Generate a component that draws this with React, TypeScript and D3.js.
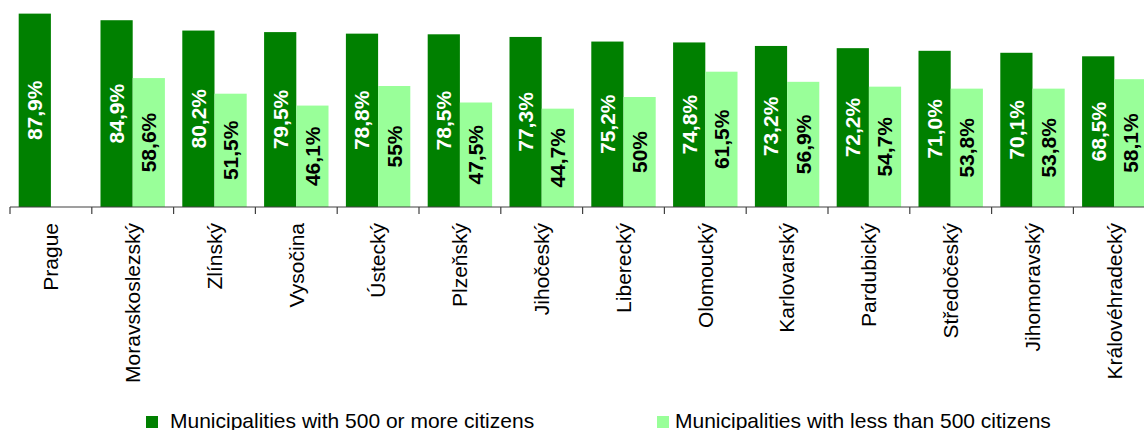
import React from "react";
import * as d3 from "d3";

const categories = [
  "Prague", "Moravskoslezský", "Zlínský", "Vysočina", "Ústecký", "Plzeňský", "Jihočeský",
  "Liberecký", "Olomoucký", "Karlovarský", "Pardubický", "Středočeský", "Jihomoravský", "Královéhradecký",
];
const bigMunicipalities = [87.9, 84.9, 80.2, 79.5, 78.8, 78.5, 77.3, 75.2, 74.8, 73.2, 72.2, 71.0, 70.1, 68.5];
const smallMunicipalities: (number | null)[] = [null, 58.6, 51.5, 46.1, 55, 47.5, 44.7, 50, 61.5, 56.9, 54.7, 53.8, 53.8, 58.1];
const seriesNames = ["Municipalities with 500 or more citizens", "Municipalities with less than 500 citizens"];

const W = 1144;
const H = 430;
const DARK = "#008000";
const LIGHT = "#99ff99";
const FONT = "'Liberation Sans', Arial, sans-serif";

const fmtBig = (v: number) => v.toFixed(1).replace(".", ",") + "%";
const fmtSmall = (v: number) => (Number.isInteger(v) ? String(v) : v.toFixed(1).replace(".", ",")) + "%";

export default function App() {
  const x0 = d3.scaleBand<string>().domain(categories).range([10, 10 + 81.8 * 14]).paddingInner(0).paddingOuter(0);
  const x1 = d3.scaleBand<string>().domain(["big", "small"]).range([0, x0.bandwidth()]).paddingInner(0).paddingOuter(0.27);
  const y = d3.scaleLinear().domain([0, 100]).range([207, -13]);
  const base = y(0);

  return (
    <svg width={W} height={H} style={{ position: "absolute", left: 0, top: 0, background: "#fff" }} fontFamily={FONT}>
      {categories.map((c, i) => {
        const gx = x0(c)!;
        const bv = bigMunicipalities[i];
        const sv = smallMunicipalities[i];
        const bx = gx + x1("big")!;
        const sx = gx + x1("small")!;
        const bw = x1.bandwidth();
        return (
          <g key={c}>
            <rect x={bx} y={y(bv)} width={bw} height={base - y(bv)} fill={DARK} />
            <text
              transform={`translate(${bx + bw / 2},${(y(bv) + base) / 2}) rotate(-90)`}
              dy="0.35em"
              textAnchor="middle"
              fill="#fff"
              fontWeight="bold"
              fontSize={21}
            >
              {fmtBig(bv)}
            </text>
            {sv != null && (
              <>
                <rect x={sx} y={y(sv)} width={bw} height={base - y(sv)} fill={LIGHT} />
                <text
                  transform={`translate(${sx + bw / 2},${(y(sv) + base) / 2}) rotate(-90)`}
                  dy="0.35em"
                  textAnchor="middle"
                  fill="#000"
                  fontWeight="bold"
                  fontSize={21}
                >
                  {fmtSmall(sv)}
                </text>
              </>
            )}
            <text
              transform={`translate(${gx + x0.bandwidth() / 2},223) rotate(-90)`}
              dy="0.35em"
              textAnchor="end"
              fill="#000"
              fontSize={21}
            >
              {c}
            </text>
          </g>
        );
      })}
      <line x1={10} x2={W} y1={base} y2={base} stroke="#404040" strokeWidth={1.2} />
      {categories.map((c) => (
        <line key={"t" + c} x1={x0(c)!} x2={x0(c)!} y1={base} y2={base + 7} stroke="#404040" strokeWidth={1.2} />
      ))}
      <g>
        <rect x={146} y={416} width={12} height={12} fill={DARK} />
        <text x={170} y={428} fontSize={21} fill="#000">{seriesNames[0]}</text>
        <rect x={657} y={416} width={12} height={12} fill={LIGHT} />
        <text x={675} y={428} fontSize={21} fill="#000">{seriesNames[1]}</text>
      </g>
    </svg>
  );
}
